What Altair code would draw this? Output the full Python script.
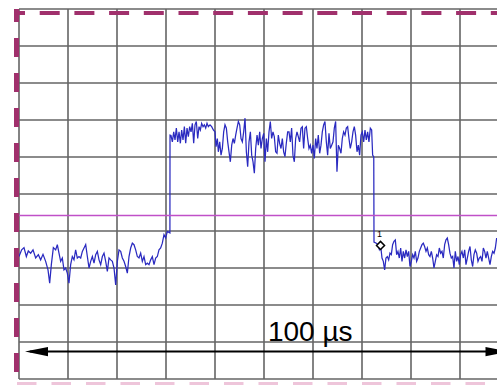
import altair as alt
import pandas as pd

# ---- trace readings: time (µs) and level (divisions) ----
low_before_t = [0.00, 0.54, 1.02, 1.50, 1.90, 2.38, 2.86, 3.40, 3.95, 4.42, 4.90, 5.44, 5.92, 6.26, 6.60, 7.01, 7.48,
                7.82, 8.16, 8.50, 8.84, 9.18, 9.52, 9.86, 10.20, 10.54, 10.88, 11.22, 11.56, 11.90, 12.24, 12.59, 12.93,
                13.27, 13.61, 13.95, 14.29, 14.63, 14.97, 15.31, 15.65, 15.99, 16.33, 16.67, 17.01, 17.35, 17.69, 18.03,
                18.37, 18.71, 19.05, 19.39, 19.73, 20.07, 20.41, 20.75, 21.09, 21.43, 21.77, 22.11, 22.45, 22.79, 23.13,
                23.47, 23.81, 24.15, 24.49, 24.83, 25.17, 25.51, 25.85, 26.19, 26.53, 26.87, 27.21, 27.55, 27.89, 28.23,
                28.57, 28.91, 29.25, 29.59, 29.93, 30.27, 30.80]
low_before_v = [3.31, 3.49, 3.55, 3.31, 3.46, 3.40, 3.49, 3.27, 3.36, 3.22, 3.37, 3.18, 2.95, 2.59, 3.09, 3.55, 3.49,
                3.63, 3.40, 3.18, 3.27, 2.95, 3.00, 2.86, 2.59, 3.09, 3.31, 3.22, 3.49, 3.27, 3.31, 3.27, 3.45,
                3.54, 3.63, 3.31, 3.00, 3.18, 3.31, 3.13, 3.36, 3.45, 3.22, 3.09, 3.31, 3.40, 3.18, 2.91,
                3.27, 3.22, 3.18, 3.00, 2.54, 3.18, 3.49, 3.45, 3.27, 3.18, 3.04, 2.86, 3.31, 3.54, 3.67,
                3.63, 3.49, 3.31, 3.27, 3.40, 3.18, 3.31, 3.09, 3.13, 3.09, 3.22, 3.31, 3.09, 3.27, 3.31,
                3.49, 3.54, 3.67, 3.90, 3.81, 3.99, 3.95]

high_t = [30.82, 31.02, 31.30, 31.57, 31.84, 32.11, 32.39, 32.66, 32.93, 33.20, 33.47, 33.75, 34.02, 34.29, 34.56,
          34.83, 35.11, 35.38, 35.65, 35.92, 36.19, 36.47, 36.74, 37.01, 37.28, 37.56, 37.83, 38.10, 38.37, 38.64,
          38.98, 39.32, 39.66, 40.00, 40.21, 40.48, 40.68, 40.96, 41.23, 41.50, 41.77, 42.04, 42.32, 42.59, 42.86,
          43.13, 43.41, 43.68, 43.95, 44.22, 44.49, 44.77, 45.04, 45.31, 45.58, 45.85, 46.13, 46.40, 46.67, 46.94,
          47.22, 47.49, 47.76, 48.03, 48.30, 48.58, 48.85, 49.12, 49.39, 49.66, 49.94, 50.21, 50.48, 50.75, 51.02,
          51.29, 51.56, 51.83, 52.10, 52.38, 52.65, 52.92, 53.19, 53.47, 53.74, 54.01, 54.28, 54.55, 54.83, 55.10,
          55.37, 55.64, 55.91, 56.19, 56.46, 56.73, 57.00, 57.27, 57.55, 57.82, 58.09, 58.36, 58.64, 58.91, 59.18,
          59.45, 59.72, 60.00, 60.27, 60.54, 60.81, 61.08, 61.36, 61.63, 61.90, 62.17, 62.44, 62.72, 62.99, 63.26,
          63.53, 63.81, 64.08, 64.35, 64.62, 64.89, 65.17, 65.44, 65.71, 65.98, 66.25, 66.53, 66.80, 67.07, 67.34,
          67.61, 67.89, 68.16, 68.43, 68.70, 68.98, 69.25, 69.52, 69.79, 70.06, 70.34, 70.61, 70.88, 71.15, 71.42,
          71.70, 71.97, 72.17, 72.40]
high_v = [6.59, 6.58, 6.41, 6.68, 6.46, 6.78, 6.41, 6.68, 6.37, 6.73, 6.46, 6.82, 6.37, 6.78, 6.55,
          6.82, 6.68, 6.91, 6.37, 6.87, 6.96, 6.50, 6.82, 6.73, 6.91, 6.82, 6.87, 6.78, 6.91, 6.82,
          6.87, 6.82, 6.73, 6.68, 6.28, 6.50, 6.14, 6.41, 6.05, 6.23, 6.68, 6.87, 6.78, 6.41, 6.14,
          5.87, 6.32, 6.50, 6.37, 6.59, 6.78, 6.96, 6.87, 6.50, 6.41, 6.68, 7.05, 6.14, 5.74, 6.41,
          6.68, 6.05, 5.87, 5.56, 6.23, 6.59, 6.32, 6.68, 6.23, 6.50, 6.64, 5.87, 6.50, 6.14, 6.68,
          6.96, 6.50, 6.68, 6.55, 6.14, 6.10, 6.59, 6.37, 6.23, 6.50, 6.14, 6.01, 6.37, 6.68, 6.68,
          6.41, 6.78, 6.05, 5.87, 6.50, 6.68, 6.55, 6.41, 6.78, 6.82, 6.23, 6.78, 6.82, 6.50, 6.23,
          6.32, 6.10, 6.32, 5.96, 6.50, 6.23, 6.59, 6.10, 6.32, 6.68, 6.87, 6.96, 6.41, 6.05, 6.64,
          6.23, 6.32, 6.41, 6.78, 6.96, 5.60, 6.32, 6.23, 6.10, 6.50, 6.68, 6.59, 6.78, 6.82, 6.50,
          6.23, 6.41, 6.68, 6.82, 6.59, 6.14, 6.32, 6.05, 6.59, 6.68, 6.41, 6.73, 6.46, 6.68, 6.41,
          6.78, 6.73, 6.05, 6.00]

low_after_t = [72.45, 72.92, 73.26, 73.53, 73.81, 74.08, 74.35, 74.62, 74.89, 75.17, 75.44, 75.71, 75.98,
               76.25, 76.53, 76.80, 77.07, 77.34, 77.61, 77.89, 78.16, 78.43, 78.70, 78.98, 79.25, 79.52, 79.79,
               80.06, 80.34, 80.61, 80.88, 81.15, 81.42, 81.70, 81.97, 82.24, 82.51, 82.78, 83.06, 83.33, 83.60,
               83.87, 84.15, 84.42, 84.69, 84.96, 85.23, 85.51, 85.78, 86.05, 86.32, 86.59, 86.87, 87.14, 87.41,
               87.68, 87.95, 88.23, 88.50, 88.77, 89.04, 89.32, 89.59, 89.86, 90.13, 90.40, 90.68, 90.95, 91.22,
               91.49, 91.76, 92.04, 92.31, 92.58, 92.85, 93.12, 93.40, 93.67, 93.94, 94.21, 94.49, 94.76, 95.03,
               95.30, 95.57, 95.85, 96.12, 96.39, 96.66, 96.94, 97.21, 97.48, 97.60]
low_after_v = [3.70, 3.67, 3.63, 3.50, 3.60, 3.27, 3.18, 2.95, 3.27, 3.31, 3.22, 3.40, 3.36,
               3.63, 3.72, 3.76, 3.36, 3.45, 3.27, 3.54, 3.18, 3.45, 3.27, 3.49, 3.31, 3.45, 3.04,
               3.18, 3.36, 3.27, 3.45, 3.18, 3.27, 3.45, 3.54, 3.63, 3.67, 3.58, 3.45, 3.54, 3.36,
               3.31, 3.45, 3.27, 3.00, 3.18, 3.36, 3.31, 3.54, 3.40, 3.45, 3.27, 3.63, 3.76, 3.81,
               3.63, 3.40, 3.27, 3.31, 3.00, 3.45, 3.18, 3.31, 3.09, 3.36, 3.45, 3.27, 3.49, 3.09,
               3.27, 3.45, 3.58, 3.22, 3.04, 3.36, 3.49, 3.40, 3.18, 3.27, 3.31, 3.18, 3.54, 3.45,
               3.27, 3.45, 3.27, 3.09, 3.31, 3.45, 3.40, 3.54, 3.81, 3.75]

# ---- annotations ----
threshold_level = 4.42
marker_t, marker_v, marker_label = 73.78, 3.61, "1"
span_label = "100 µs"
span_start, span_end, span_level = 1.22, 99.9, 0.74
x_grid = [0, 10, 20, 30, 40, 50, 60, 70, 80, 90]
y_grid = [0, 1, 2, 3, 4, 5, 6, 7, 8, 9, 10]
x_view = [0, 97.55]
y_view = [0, 10]

assert len(low_before_t) == len(low_before_v)
assert len(high_t) == len(high_v)
assert len(low_after_t) == len(low_after_v)

T = low_before_t + high_t + low_after_t
V = low_before_v + high_v + low_after_v
trace = pd.DataFrame({"t": T, "v": V, "i": list(range(len(T)))})

MAROON = "#a0306c"
GRID = "#646464"
xs = alt.Scale(domain=x_view, nice=False, zero=False)
ys = alt.Scale(domain=y_view, nice=False, zero=False)

vgrid = alt.Chart(pd.DataFrame({"g": x_grid})).mark_rule(color=GRID, strokeWidth=1.6).encode(
    x=alt.X("g:Q", scale=xs))
hgrid = alt.Chart(pd.DataFrame({"g": y_grid})).mark_rule(color=GRID, strokeWidth=1.6).encode(
    y=alt.Y("g:Q", scale=ys))

line = alt.Chart(trace).mark_line(color="#2a2ac0", strokeWidth=1.25, clip=True).encode(
    x=alt.X("t:Q", scale=xs),
    y=alt.Y("v:Q", scale=ys),
    order="i:Q",
)

thr = alt.Chart().mark_rule(color="#c050c8", strokeWidth=1.5).encode(y=alt.datum(threshold_level))

arrow = alt.Chart().mark_rule(color="black", strokeWidth=2).encode(
    x=alt.datum(span_start + 1), x2=alt.datum(x_view[1]), y=alt.datum(span_level))
head_l = alt.Chart().mark_point(shape="M0,0L2,-0.4L2,0.4Z", filled=True, color="black", size=529, opacity=1).encode(
    x=alt.datum(span_start), y=alt.datum(span_level))
head_r = alt.Chart().mark_point(shape="M0,0L-2,-0.4L-2,0.4Z", filled=True, color="black", size=529, opacity=1).encode(
    x=alt.datum(span_end), y=alt.datum(span_level))
label = alt.Chart().mark_text(text=span_label, font="Liberation Sans Narrow, Arial Narrow, Liberation Sans",
                              fontSize=28, align="left", baseline="alphabetic", color="black").encode(
    x=alt.datum(50.8), y=alt.datum(1.02))

diamond = alt.Chart().mark_point(shape="diamond", filled=True, fill="white", stroke="black", strokeWidth=1.5,
                                 size=64, opacity=1).encode(x=alt.datum(marker_t), y=alt.datum(marker_v))
mlabel = alt.Chart().mark_text(text=marker_label, font="Liberation Sans", fontSize=9, color="black",
                               align="center", baseline="middle").encode(x=alt.datum(73.57), y=alt.datum(3.92))

left_dash = alt.Chart().mark_rule(color=MAROON, strokeWidth=5, strokeDash=[19, 16], strokeDashOffset=6).encode(
    x=alt.datum(-0.51), y=alt.datum(10), y2=alt.datum(-0.2))
top_dash = alt.Chart().mark_rule(color=MAROON, strokeWidth=4, strokeDash=[20, 14.7], strokeDashOffset=9).encode(
    x=alt.datum(-1.02), x2=alt.datum(x_view[1]), y=alt.datum(9.89))
bot_dash = alt.Chart().mark_rule(color="#eec5da", strokeWidth=4, strokeDash=[19.5, 15]).encode(
    x=alt.datum(-0.41), x2=alt.datum(x_view[1]), y=alt.datum(-0.135))

chart = alt.layer(vgrid, hgrid, line, thr, arrow, head_l, head_r, label, diamond, mlabel,
                  left_dash, top_dash, bot_dash).properties(
    width=478, height=370, autosize="none",
    padding={"left": 19, "top": 9, "right": 0, "bottom": 6},
    background="white",
).configure_view(stroke=None).configure_axis(disable=True)

chart.save("out.html", embed_options={"renderer": "svg", "actions": False})
